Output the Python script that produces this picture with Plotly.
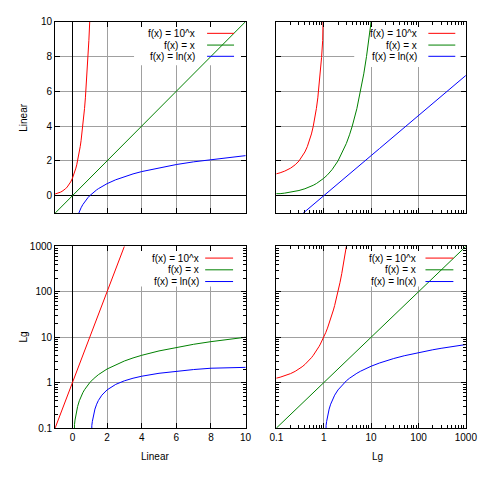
import plotly.graph_objects as go

# sampled points of the three curves
exp_x = [-1.0, -0.9, -0.8, -0.7, -0.6, -0.5, -0.4, -0.3, -0.2, -0.1, 0.0, 0.1, 0.12, 0.15,
         0.2, 0.25, 0.3, 0.35, 0.4, 0.45, 0.5, 0.55, 0.6, 0.65, 0.7, 0.75, 0.8, 0.85, 0.9,
         0.95, 1.0, 1.1, 1.2, 1.3, 1.4, 1.5, 1.6, 1.7, 1.8, 1.9, 2.0, 2.2, 2.4, 2.6, 2.8, 3.0]
exp_y = [0.1, 0.1259, 0.1585, 0.1995, 0.2512, 0.3162, 0.3981, 0.5012, 0.631, 0.7943, 1.0,
         1.259, 1.318, 1.413, 1.585, 1.778, 1.995, 2.239, 2.512, 2.818, 3.162, 3.548, 3.981,
         4.467, 5.012, 5.623, 6.31, 7.079, 7.943, 8.913, 10.0, 12.59, 15.85, 19.95, 25.12,
         31.62, 39.81, 50.12, 63.1, 79.43, 100.0, 158.5, 251.2, 398.1, 631.0, 1000.0]

id_x = [-1.0, 0.0, 0.1, 0.12, 0.15, 0.2, 0.25, 0.3, 0.4, 0.5, 0.6, 0.7, 0.8, 0.9, 1.0, 1.2,
        1.5, 2.0, 2.5, 3.0, 3.5, 4.0, 5.0, 6.0, 7.0, 8.0, 9.0, 10.0, 20.0, 50.0, 100.0,
        200.0, 500.0, 1000.0]
id_y = [-1.0, 0.0, 0.1, 0.12, 0.15, 0.2, 0.25, 0.3, 0.4, 0.5, 0.6, 0.7, 0.8, 0.9, 1.0, 1.2,
        1.5, 2.0, 2.5, 3.0, 3.5, 4.0, 5.0, 6.0, 7.0, 8.0, 9.0, 10.0, 20.0, 50.0, 100.0,
        200.0, 500.0, 1000.0]

ln_x = [0.368, 0.4, 0.45, 0.5, 0.6, 0.7, 0.8, 0.9, 1.0, 1.105, 1.12, 1.15, 1.2, 1.3, 1.4,
        1.5, 1.7, 2.0, 2.5, 3.0, 3.5, 4.0, 5.0, 6.0, 7.0, 8.0, 9.0, 10.0, 15.0, 20.0, 30.0,
        50.0, 70.0, 100.0, 150.0, 200.0, 300.0, 500.0, 700.0, 1000.0]
ln_y = [-1.0, -0.916, -0.799, -0.693, -0.511, -0.357, -0.223, -0.105, 0.0, 0.0998, 0.1133,
        0.1398, 0.1823, 0.2624, 0.3365, 0.4055, 0.5306, 0.6931, 0.9163, 1.0986, 1.2528,
        1.3863, 1.6094, 1.7918, 1.9459, 2.0794, 2.1972, 2.3026, 2.7081, 2.9957, 3.4012,
        3.912, 4.2485, 4.6052, 5.0106, 5.2983, 5.7038, 6.2146, 6.5511, 6.9078]

names = ["f(x) = 10^x", "f(x) = x", "f(x) = ln(x)"]
colors = ["#ff0000", "#008000", "#0000ff"]
series = [(exp_x, exp_y), (id_x, id_y), (ln_x, ln_y)]

lin_ticks = [0, 2, 4, 6, 8, 10]
log_ticks = [0.1, 1, 10, 100, 1000]
log_text = ["0.1", "1", "10", "100", "1000"]

FONT = "Liberation Sans, Arial, sans-serif"
FS = 10
W, H = 500, 482


# window pixels -> paper coords (body margin is removed below)
def px(v):
    return v / W


def py(v):
    return 1 - v / H


fig = go.Figure()

panels = [("x", "y"), ("x2", "y2"), ("x3", "y3"), ("x4", "y4")]

for xa, ya in panels:
    for (sx, sy), nm, c in zip(series, names, colors):
        fig.add_trace(go.Scatter(x=sx, y=sy, mode="lines", name=nm, xaxis=xa, yaxis=ya,
                                 line=dict(color=c, width=1), showlegend=False))

col_dom = [[px(50), px(248)], [px(280), px(477)]]
row_dom = [[py(213), py(17)], [py(433), py(247)]]


def axis_common():
    return dict(showline=True, linecolor="black", linewidth=1, mirror="allticks",
                ticks="inside", ticklen=5, tickcolor="black", showgrid=True,
                gridcolor="#a0a0a0", gridwidth=1,
                tickfont=dict(family=FONT, size=FS, color="black"))


def lin_axis(show_labels):
    d = axis_common()
    d.update(type="linear", range=[-1, 10], tickmode="array", tickvals=lin_ticks,
             showticklabels=show_labels, zeroline=True, zerolinecolor="black",
             zerolinewidth=1)
    return d


def log_axis(show_labels):
    d = axis_common()
    d.update(type="log", range=[-1, 3], tickmode="array", tickvals=log_ticks,
             ticktext=log_text, showticklabels=show_labels,
             minor=dict(ticks="inside", ticklen=3, tickcolor="black", dtick="D1",
                        showgrid=False))
    return d


xa1 = lin_axis(False); xa1.update(domain=col_dom[0], anchor="y")
ya1 = lin_axis(True); ya1.update(domain=row_dom[0], anchor="x")
xa2 = log_axis(False); xa2.update(domain=col_dom[1], anchor="y2")
ya2 = lin_axis(False); ya2.update(domain=row_dom[0], anchor="x2")
xa3 = lin_axis(True); xa3.update(domain=col_dom[0], anchor="y3")
ya3 = log_axis(True); ya3.update(domain=row_dom[1], anchor="x3")
xa4 = log_axis(True); xa4.update(domain=col_dom[1], anchor="y4")
ya4 = log_axis(False); ya4.update(domain=row_dom[1], anchor="x4")

# white key boxes behind the curves (data coordinates of each panel)
boxes = [("x", "y", 3.56, 9.8, 7.5, 9.85),
         ("x2", "y2", 4.4, 750, 7.4, 9.85),
         ("x3", "y3", 3.7, 9.85, 131, 860),
         ("x4", "y4", 7.4, 720, 131, 860)]

# key entries: text right edge, sample x0, x1, row y (window px)
keys = [(197, 208, 236, [29, 41, 52.5]),
        (428, 438, 466, [29, 41, 52.5]),
        (202, 206, 235, [259, 271, 283]),
        (427, 435, 464, [259, 271, 283])]

shapes = []
annotations = []
for xa, ya, x0, x1, y0, y1 in boxes:
    shapes.append(dict(type="rect", xref=xa, yref=ya, x0=x0, x1=x1, y0=y0, y1=y1,
                       fillcolor="white", line=dict(width=0), layer="between"))

for tx, s0, s1, rows in keys:
    for nm, c, ry in zip(names, colors, rows):
        annotations.append(dict(xref="paper", yref="paper", x=px(tx), y=py(ry), text=nm,
                                showarrow=False, xanchor="right", yanchor="middle",
                                font=dict(family=FONT, size=FS, color="black")))
        shapes.append(dict(type="line", xref="paper", yref="paper", x0=px(s0), x1=px(s1),
                           y0=py(ry), y1=py(ry), line=dict(color=c, width=1),
                           layer="above"))

# axis titles
titles = [("Linear", 17, 115, -90), ("Lg", 17, 340, -90),
          ("Linear", 154, 462, 0), ("Lg", 385, 462, 0)]
for t, tx, ty, ang in titles:
    annotations.append(dict(xref="paper", yref="paper", x=px(tx), y=py(ty), text=t,
                            showarrow=False, xanchor="center", yanchor="middle",
                            textangle=ang, font=dict(family=FONT, size=FS, color="black")))

fig.update_layout(
    width=W, height=H,
    margin=dict(l=0, r=0, t=0, b=0),
    paper_bgcolor="white", plot_bgcolor="white",
    font=dict(family=FONT, size=FS, color="black"),
    xaxis=xa1, yaxis=ya1, xaxis2=xa2, yaxis2=ya2,
    xaxis3=xa3, yaxis3=ya3, xaxis4=xa4, yaxis4=ya4,
    shapes=shapes, annotations=annotations,
    showlegend=False,
)

fig.write_html("out.html", config={"displayModeBar": False},
               post_script="document.body.style.margin='0';document.body.style.overflow='hidden';")
